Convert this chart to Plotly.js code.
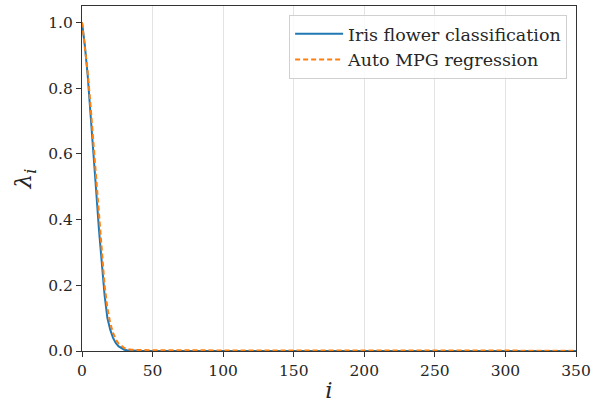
<!DOCTYPE html>
<html>
<head>
<meta charset="utf-8">
<script src="https://cdn.plot.ly/plotly-3.0.1.min.js"></script>
<style>html,body{margin:0;padding:0;background:#fff;}#chart{width:592px;height:403px;}</style>
</head>
<body>
<div id="chart"></div>
<script>
// Values
const irisI   = [0, 2, 4, 6, 8, 10, 12, 14, 16, 18, 20, 22, 24, 26, 28, 30, 32, 35, 40, 60, 350];
const irisVal = [1.0, 0.93, 0.84, 0.73, 0.62, 0.49, 0.37, 0.26, 0.17, 0.10, 0.065, 0.04, 0.024, 0.014, 0.008, 0.004, 0.002, 0.001, 0.0005, 0.0003, 0.0];
const mpgI    = [0, 2, 4, 6, 8, 10, 12, 14, 16, 18, 20, 22, 24, 26, 28, 30, 32, 35, 40, 60, 350];
const mpgVal  = [1.0, 0.93, 0.85, 0.75, 0.64, 0.52, 0.40, 0.29, 0.20, 0.13, 0.085, 0.055, 0.035, 0.022, 0.014, 0.009, 0.006, 0.004, 0.003, 0.002, 0.001];
const seriesNames = ["Iris flower classification", "Auto MPG regression"];
const xTicks = [0, 50, 100, 150, 200, 250, 300, 350];
const yTicks = [0.0, 0.2, 0.4, 0.6, 0.8, 1.0];
const yTickText = ["0.0", "0.2", "0.4", "0.6", "0.8", "1.0"];

const serif = "DejaVu Serif, serif";
const traces = [
  {x: irisI, y: irisVal, name: seriesNames[0], mode: "lines",
   line: {color: "#1f77b4", width: 2}},
  {x: mpgI, y: mpgVal, name: seriesNames[1], mode: "lines",
   line: {color: "#ff7f0e", width: 2, dash: "5px,3px"}}
];
const layout = {
  width: 592, height: 403,
  margin: {l: 82, r: 16, t: 6, b: 52},
  paper_bgcolor: "#fff", plot_bgcolor: "#fff",
  font: {family: serif, size: 15.5, color: "#262626"},
  showlegend: true,
  legend: {x: 0.982, y: 0.974, xanchor: "right", yanchor: "top", itemwidth: 48,
           bgcolor: "rgba(255,255,255,0.8)", bordercolor: "#d0d0d0", borderwidth: 1,
           font: {family: serif, size: 17.5, color: "#262626"}},
  xaxis: {range: [0, 350], tickvals: xTicks, ticktext: xTicks.map(String),
          showgrid: true, gridcolor: "#e3e3e3", gridwidth: 1,
          zeroline: false, showline: true, linecolor: "#333", linewidth: 1, mirror: true,
          ticks: "outside", ticklen: 5, tickcolor: "#333",
          tickfont: {family: serif, size: 15.5, color: "#262626"},
          title: {text: "<i>i</i>", font: {family: serif, size: 23}, standoff: 8}},
  yaxis: {range: [0, 1.05], tickvals: yTicks, ticktext: yTickText,
          showgrid: false, zeroline: false,
          showline: true, linecolor: "#333", linewidth: 1, mirror: true,
          ticks: "outside", ticklen: 5, tickcolor: "#333",
          tickfont: {family: serif, size: 15.5, color: "#262626"},
          title: {text: "<i>λ<sub>i</sub></i>", font: {family: serif, size: 23}, standoff: 10}}
};
Plotly.newPlot("chart", traces, layout, {displayModeBar: false, staticPlot: true});
</script>
</body>
</html>
